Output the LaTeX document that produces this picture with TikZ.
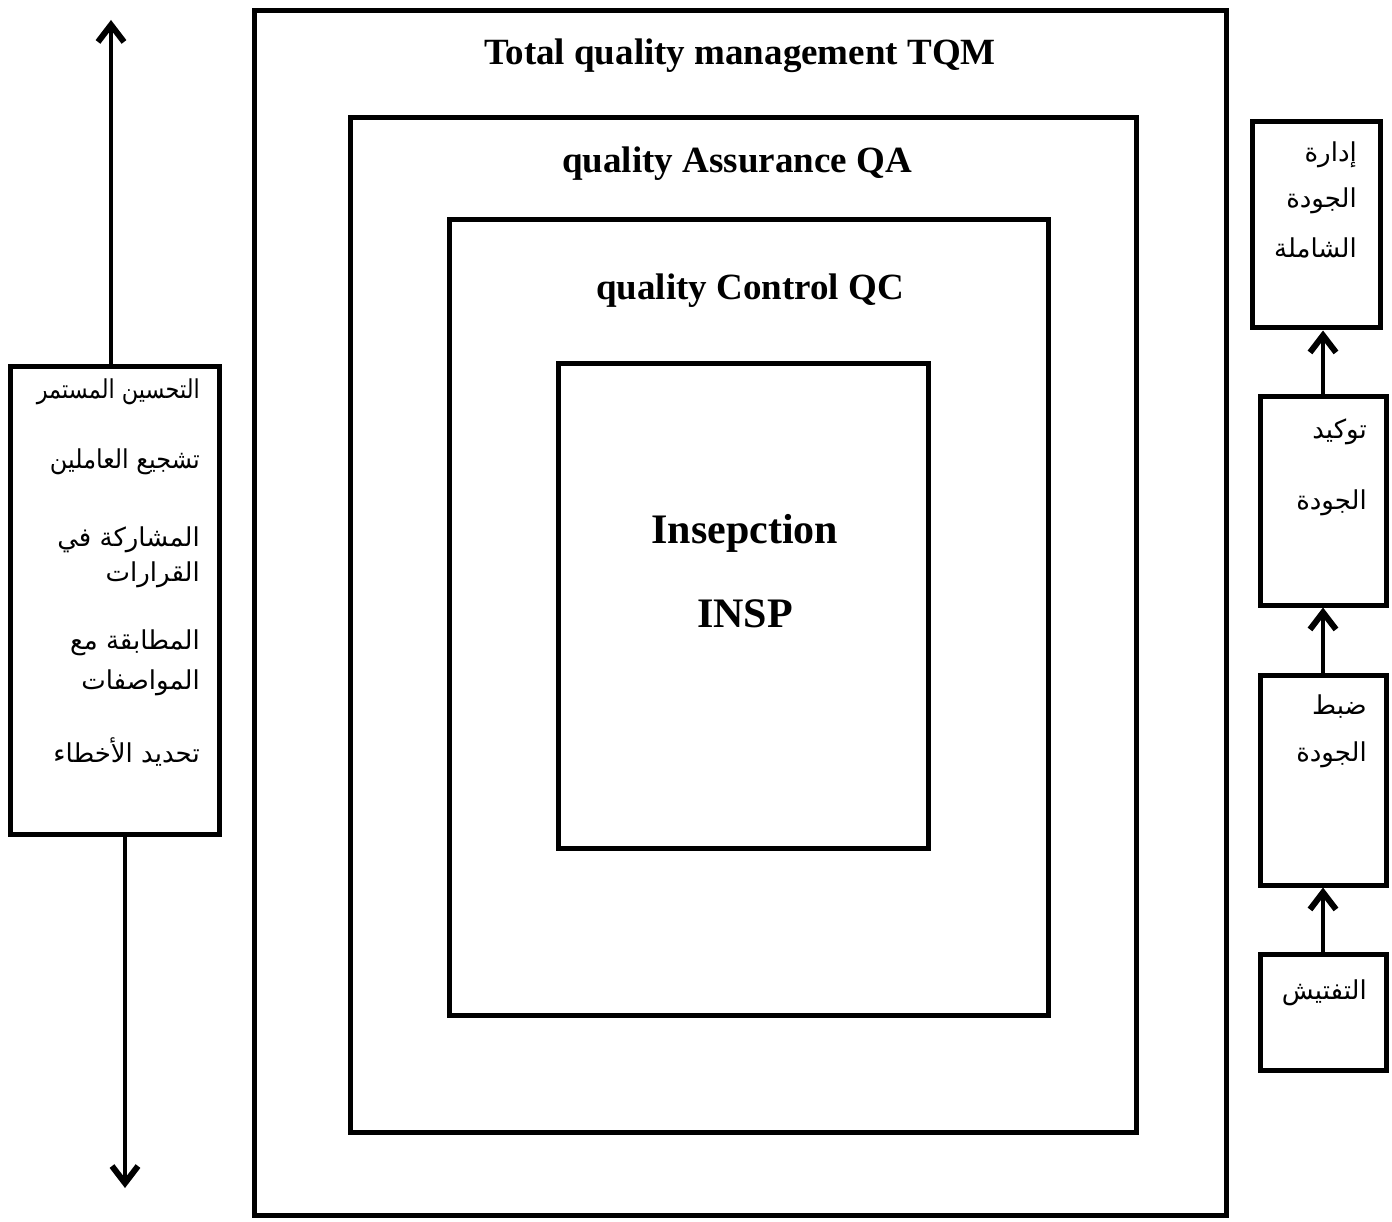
\documentclass[tikz,border=0pt]{standalone}
\usepackage{fontspec}
\setmainfont{Liberation Serif}
\newfontfamily\arabicfont[Script=Arabic]{DejaVu Sans}
\TeXXeTstate=1
\usetikzlibrary{arrows.meta}
\newcommand\artext[1]{{\arabicfont\beginR #1\endR}}

\tikzset{
  frame/.style={draw, line width=5pt, inner sep=0pt},
  title/.style={font=\fontsize{37}{40}\selectfont\bfseries, inner sep=0pt},
  big/.style={font=\fontsize{42}{46}\selectfont\bfseries, inner sep=0pt},
  arlabel/.style={font=\arabicfont\fontsize{26}{30}\selectfont, inner sep=0pt, anchor=east},
  link/.style={line width=4pt, -{Straight Barb[length=17pt,width=26pt,line width=6pt]}}
}

\begin{document}
\begin{tikzpicture}[x=1pt, y=-1pt]
\useasboundingbox (0,0) rectangle (1392,1222);

% nested quality frames
\node[frame, minimum width=972pt, minimum height=1205pt] (tqm) at (740,613) {};
\node[frame, minimum width=786pt, minimum height=1014pt] (qa) at (743,625) {};
\node[frame, minimum width=599pt, minimum height=795pt] (qc) at (749,617.5) {};
\node[frame, minimum width=370pt, minimum height=484pt] (insp) at (743,606) {};

\node[title] (ttqm) at (740,56) {Total quality management TQM};
\node[title] (tqa) at (737,164) {quality Assurance QA};
\node[title] (tqc) at (750,291) {quality Control QC};
\node[big] (tinsp1) at (745,533) {Insepction};
\node[big] (tinsp2) at (745,614) {INSP};

% left column of features
\node[frame, minimum width=209pt, minimum height=467pt] (feat) at (114.5,600.5) {};
\node[arlabel, xscale=0.86] (f1) at (200,392) {\artext{التحسين المستمر}};
\node[arlabel, xscale=0.92] (f2) at (200,462) {\artext{تشجيع العاملين}};
\node[arlabel] (f3) at (200,540) {\artext{المشاركة في}};
\node[arlabel] (f4) at (200,575) {\artext{القرارات}};
\node[arlabel] (f5) at (200,643) {\artext{المطابقة مع}};
\node[arlabel] (f6) at (200,683) {\artext{المواصفات}};
\node[arlabel] (f7) at (200,752) {\artext{تحديد الأخطاء}};

\coordinate (uptip) at (111,20);
\coordinate (downtip) at (125,1188);
\draw[link] (feat.north -| uptip) -- (uptip);
\draw[link] (feat.south -| downtip) -- (downtip);

% right column of stages
\node[frame, minimum width=128pt, minimum height=206pt] (s1) at (1316,225) {};
\node[frame, minimum width=126pt, minimum height=208pt] (s2) at (1323,501) {};
\node[frame, minimum width=126pt, minimum height=210pt] (s3) at (1323,780) {};
\node[frame, minimum width=126pt, minimum height=116pt] (s4) at (1323,1012) {};

\node[arlabel] (s1a) at (1357,155) {\artext{إدارة}};
\node[arlabel] (s1b) at (1357,201) {\artext{الجودة}};
\node[arlabel] (s1c) at (1357,248) {\artext{الشاملة}};
\node[arlabel] (s2a) at (1367,432) {\artext{توكيد}};
\node[arlabel] (s2b) at (1367,503) {\artext{الجودة}};
\node[arlabel] (s3a) at (1367,707) {\artext{ضبط}};
\node[arlabel] (s3b) at (1367,755) {\artext{الجودة}};
\node[arlabel] (s4a) at (1367,993) {\artext{التفتيش}};

\draw[link] (s2.north) -- (s2.north |- s1.south);
\draw[link] (s3.north) -- (s3.north |- s2.south);
\draw[link] (s4.north) -- (s4.north |- s3.south);
\end{tikzpicture}
\end{document}
